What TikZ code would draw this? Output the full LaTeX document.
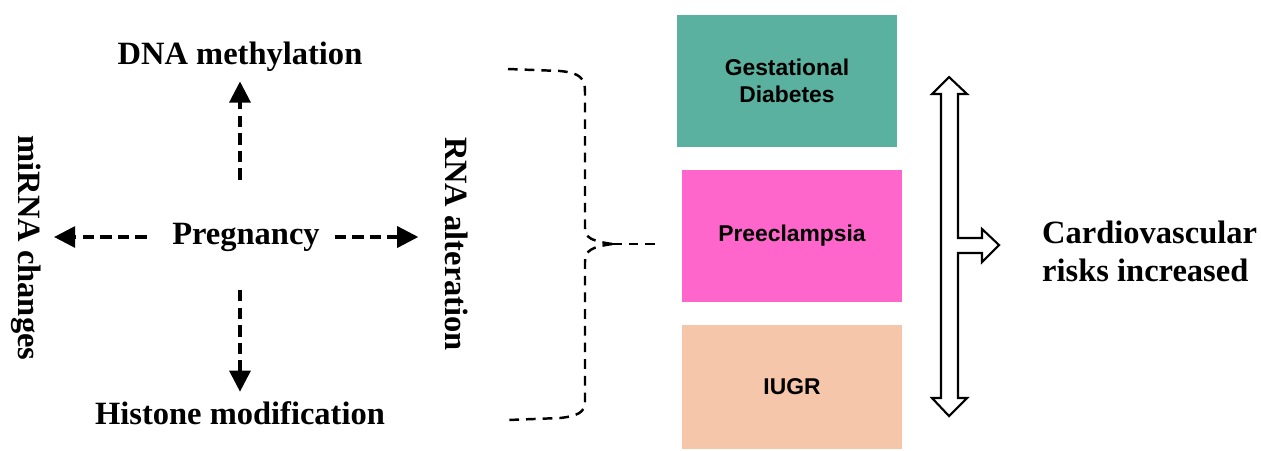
\documentclass[tikz,border=0pt]{standalone}
\usepackage{fontspec}
\setmainfont{Liberation Serif}
\newfontfamily\boxfont{Liberation Sans}
\usetikzlibrary{arrows.meta}
\definecolor{gdteal}{HTML}{5AB1A0}
\definecolor{pepink}{HTML}{FF66CC}
\definecolor{iugrpeach}{HTML}{F5C6AA}

\begin{document}
\begin{tikzpicture}[x=0.02cm,y=-0.02cm,
  lbl/.style={font=\fontsize{18.5}{21.5}\selectfont\bfseries},
  riskbox/.style={minimum width=4.42cm,minimum height=2.64cm,
    font=\boxfont\fontsize{13}{15.3}\selectfont\bfseries,align=center},
  dasharrow/.style={-{Triangle[length=12pt,width=12pt]},line width=1.8pt,
    dash pattern=on 6.5pt off 3.5pt},
  bracedash/.style={line width=1.4pt,dash pattern=on 5.5pt off 4pt}]
  \useasboundingbox (0,0) rectangle (1261,450);

  % epigenetic changes around pregnancy
  \node[lbl] (preg) at (246,237) {Pregnancy};
  \node[lbl] (dna) at (240,57) {DNA methylation};
  \node[lbl] (hist) at (240,413) {Histone modification};
  \node[lbl,rotate=-90] (mirna) at (26,248) {miRNA changes};
  \node[lbl,rotate=-90] (rna) at (457,244) {RNA alteration};

  \draw[dasharrow,shorten <=21pt,shorten >=2pt] (preg.north -| dna.south) -- (dna.south);
  \draw[dasharrow,shorten <=18.5pt,shorten >=2pt] (preg.south -| hist.north) -- (hist.north);
  \draw[dasharrow,shorten <=11pt,shorten >=4pt] (preg.west) -- (preg.west -| mirna.north);
  \draw[dasharrow,shorten <=5pt,shorten >=12pt] (preg.east) -- (preg.east -| rna.south);

  % pregnancy complications
  \node[riskbox,fill=gdteal] (gd) at (787,81) {Gestational\\Diabetes};
  \node[riskbox,fill=pepink] (pe) at (792,236) {Preeclampsia};
  \node[riskbox,fill=iugrpeach,minimum height=2.5cm] (iugr) at (792,387) {IUGR};

  % brace
  \coordinate (tip) at (612,244);
  \draw[bracedash] (508,69) -- (560,71) .. controls (580,73) and (585,78) .. (585,92)
    -- (585,228) .. controls (585,238) and (592,241) .. (tip);
  \draw[bracedash] (tip) .. controls (592,247) and (585,250) .. (585,262)
    -- (585,402) .. controls (585,412) and (578,416) .. (560,418) -- (508,420);
  \draw[bracedash,shorten >=12pt] (tip) -- (tip -| pe.west);

  % hollow double arrow with branch
  \draw[line width=1.2pt,fill=white,line join=miter]
    (949,77) -- (967,94) -- (958,94) -- (958,238) -- (982,238) -- (982,229)
    -- (999,245) -- (982,262) -- (982,253) -- (958,253) -- (958,398)
    -- (967,398) -- (949,416) -- (932,398) -- (941,398) -- (941,94)
    -- (932,94) -- cycle;

  \node[lbl,align=left,anchor=west] (risk) at (1036,251)
    {Cardiovascular\\risks increased};
\end{tikzpicture}
\end{document}
